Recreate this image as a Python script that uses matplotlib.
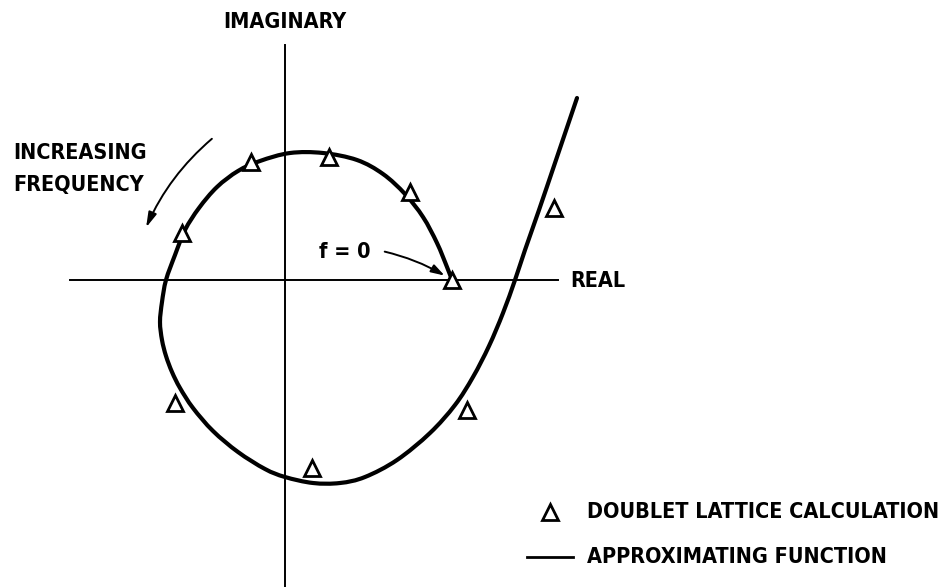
import numpy as np
import matplotlib.pyplot as plt
from matplotlib.path import Path
from matplotlib.patches import FancyArrowPatch, PathPatch

# approximating function, real / imaginary parts, starting at f = 0
curve_re = [1.67, 1.62, 1.52, 1.38, 1.20, 0.98, 0.72, 0.38, 0.05, -0.25, -0.47,
            -0.68, -0.86, -1.00, -1.10, -1.19, -1.23, -1.25, -1.23, -1.19, -1.13,
            -1.05, -0.92, -0.72, -0.47, -0.20, 0.00, 0.28, 0.55, 0.80, 1.12,
            1.45, 1.70, 1.88, 2.04, 2.18, 2.30, 2.40, 2.54, 2.71, 2.92]
curve_im = [0.00, 0.13, 0.37, 0.63, 0.86, 1.06, 1.20, 1.27, 1.27, 1.19, 1.09,
            0.93, 0.72, 0.50, 0.25, 0.00, -0.22, -0.42, -0.60, -0.76, -0.92,
            -1.08, -1.28, -1.51, -1.72, -1.89, -1.97, -2.03, -2.03, -1.97, -1.80,
            -1.53, -1.25, -0.97, -0.66, -0.33, 0.00, 0.30, 0.70, 1.20, 1.82]

# doublet lattice calculation
dl_re = [1.67, 1.25, 0.44, -0.34, -1.03, -1.10, 0.27, 1.82, 2.69]
dl_im = [0.00, 0.88, 1.23, 1.18, 0.47, -1.23, -1.88, -1.30, 0.72]

FONT = dict(family="DejaVu Sans", fontstretch="condensed", fontweight="bold",
            fontsize=15.5, color="black")


def smooth_path(xs, ys):
    # bezier segments through the read points (catmull-rom tangents)
    p = np.column_stack([xs, ys])
    verts = [p[0]]
    codes = [Path.MOVETO]
    for i in range(len(p) - 1):
        p0 = p[i - 1] if i > 0 else p[i]
        p3 = p[i + 2] if i + 2 < len(p) else p[i + 1]
        c1 = p[i] + (p[i + 1] - p0) / 6
        c2 = p[i + 1] - (p3 - p[i]) / 6
        verts += [c1, c2, p[i + 1]]
        codes += [Path.CURVE4] * 3
    return Path(verts, codes)


fig = plt.figure(figsize=(9.49, 5.87), dpi=100)
ax = fig.add_axes([0, 0, 1, 1])
ax.set_xlim(-2.85, 6.64)
ax.set_ylim(-3.07, 2.80)
ax.axis("off")

# axes
ax.plot([0, 0], [-3.07, 2.35], color="black", lw=1.4)
ax.plot([-2.15, 2.73], [0, 0], color="black", lw=1.4)
ax.text(0, 2.58, "IMAGINARY", ha="center", va="center", **FONT)
ax.text(2.85, -0.01, "REAL", ha="left", va="center", **FONT)

# data
ax.add_patch(PathPatch(smooth_path(curve_re, curve_im), facecolor="none",
                       edgecolor="black", lw=3.0, capstyle="round"))
ax.plot(dl_re, dl_im, linestyle="none", marker="^", markersize=11,
        markerfacecolor="white", markeredgecolor="black", markeredgewidth=2)

# annotations
ax.text(-2.72, 1.27, "INCREASING", ha="left", va="center", **FONT)
ax.text(-2.72, 0.95, "FREQUENCY", ha="left", va="center", **FONT)
ax.add_patch(FancyArrowPatch((-0.71, 1.43), (-1.40, 0.50),
                             connectionstyle="arc3,rad=0.12",
                             arrowstyle="-|>,head_length=9,head_width=2.5",
                             color="black", lw=1.4))

ax.text(0.60, 0.28, "f = 0", ha="center", va="center", **FONT)
ax.add_patch(FancyArrowPatch((0.97, 0.29), (1.62, 0.03),
                             connectionstyle="arc3,rad=-0.08",
                             arrowstyle="-|>,head_length=8,head_width=2.5",
                             color="black", lw=1.4))

# legend
ax.plot([2.65], [-2.32], linestyle="none", marker="^", markersize=11,
        markerfacecolor="white", markeredgecolor="black", markeredgewidth=2)
ax.text(3.02, -2.32, "DOUBLET LATTICE CALCULATION", ha="left", va="center", **FONT)
ax.plot([2.42, 2.88], [-2.77, -2.77], color="black", lw=2.0)
ax.text(3.02, -2.77, "APPROXIMATING FUNCTION", ha="left", va="center", **FONT)

fig.savefig("out.png", dpi=100)
